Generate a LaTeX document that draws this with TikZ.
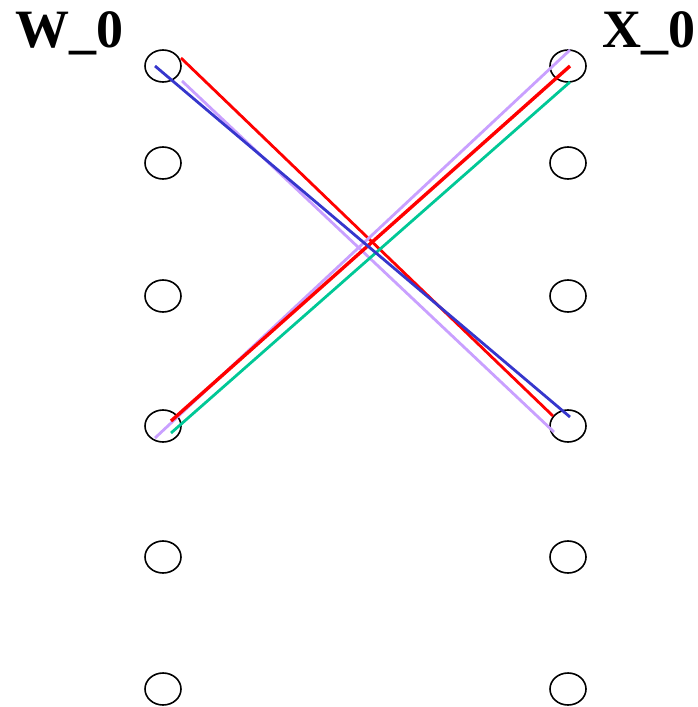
\documentclass[tikz,border=0pt]{standalone}
\usepackage{fontspec}
\setmainfont{Liberation Serif}
\usepackage{tikz}
\usetikzlibrary{shapes.geometric}
\definecolor{linkred}{HTML}{FF0000}
\definecolor{linkblue}{HTML}{3636CC}
\definecolor{linklilac}{HTML}{C9A0FF}
\definecolor{linkgreen}{HTML}{00C896}

\begin{document}
\begin{tikzpicture}[
  x=1pt, y=-1pt,
  unit/.style={draw=black, ellipse, line width=1.6pt, minimum width=36pt, minimum height=32pt, inner sep=0pt},
  head/.style={font=\fontsize{54}{54}\selectfont\bfseries, anchor=base, inner sep=0pt},
  link/.style={line width=2.8pt}
]
\useasboundingbox (0,0) rectangle (698,707);
% ----- headers -----
\node[head] (hw) at (70,47)  {W\_0};
\node[head] (hx) at (649,47) {X\_0};
% ----- two columns of units -----
\foreach \i/\yy in {0/66, 1/163, 2/296, 3/426, 4/557, 5/689}{
  \node[unit] (w\i) at (163,\yy) {};
  \node[unit] (x\i) at (568,\yy) {};
}
% ----- links W_0 -> X_3 -----
\draw[link, linklilac] ([shift={(19,15)}]w0.center) -- ([shift={(-14,6)}]x3.center);
\draw[link, linkred]   ([shift={(18,-8)}]w0.center) -- ([shift={(-15,-10)}]x3.center);
% ----- links W_3 -> X_0 -----
\draw[link, linkgreen] ([shift={(8,7)}]w3.center)   -- ([shift={(2,16)}]x0.center);
\draw[link, linklilac] ([shift={(-8,12)}]w3.center) -- ([shift={(2,-16)}]x0.center);
\draw[link, linkred, line width=3.4pt] ([shift={(8,-5)}]w3.center) -- ([shift={(2,0)}]x0.center);
% ----- blue link on top -----
\draw[link, linkblue]  ([shift={(-8,0)}]w0.center)  -- ([shift={(2,-9)}]x3.center);
\end{tikzpicture}
\end{document}
